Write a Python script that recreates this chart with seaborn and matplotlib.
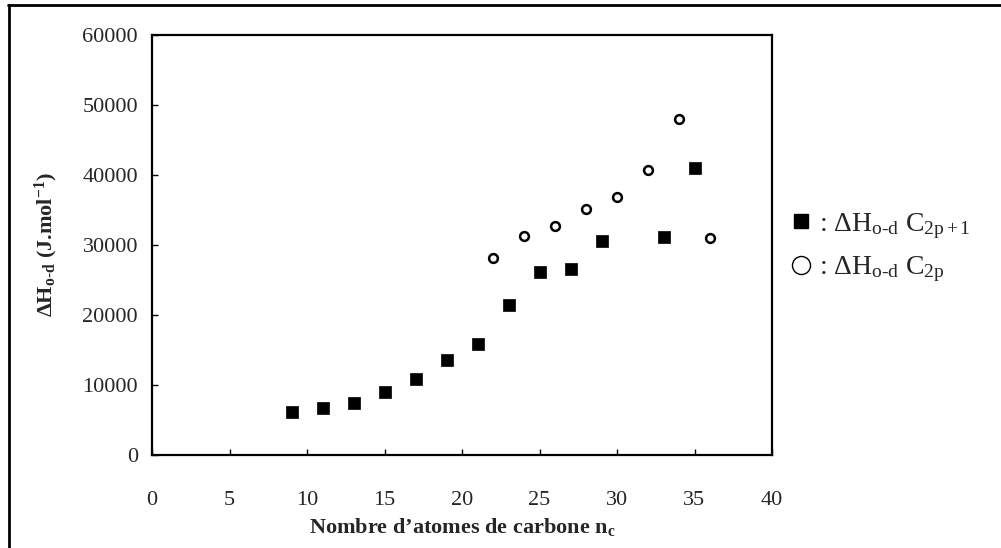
import numpy as np
import pandas as pd
import matplotlib
matplotlib.use("Agg")
import matplotlib.pyplot as plt
from matplotlib.lines import Line2D
import seaborn as sns

# Data
n_odd = [9, 11, 13, 15, 17, 19, 21, 23, 25, 27, 29, 33, 35]
h_odd = [6200, 6700, 7500, 9000, 10800, 13600, 15900, 21500, 26100, 26600, 30600, 31100, 41000]
n_even = [22, 24, 26, 28, 30, 32, 34, 36]
h_even = [28100, 31300, 32700, 35100, 36900, 40700, 48000, 31000]
x_ticks = [0, 5, 10, 15, 20, 25, 30, 35, 40]
y_ticks = [0, 10000, 20000, 30000, 40000, 50000, 60000]

sns.set_theme(style="white")
plt.rcParams['font.family'] = ['Liberation Serif', 'DejaVu Serif']
plt.rcParams['mathtext.fontset'] = 'custom'
plt.rcParams['mathtext.rm'] = 'Liberation Serif'
plt.rcParams['mathtext.it'] = 'Liberation Serif:italic'
plt.rcParams['mathtext.bf'] = 'Liberation Serif:bold'

df_odd = pd.DataFrame({"n": n_odd, "H": h_odd})
df_even = pd.DataFrame({"n": n_even, "H": h_even})

fig = plt.figure(figsize=(10.01, 5.48), dpi=100)
ax = fig.add_axes([152/1001, 1-455/548, (772-152)/1001, (455-35)/548])

sns.scatterplot(data=df_odd, x="n", y="H", ax=ax, marker="s", s=72,
                color="black", edgecolor="black", linewidth=0.5)
sns.scatterplot(data=df_even, x="n", y="H", ax=ax, marker="o", s=40,
                facecolor="white", edgecolor="black", linewidth=1.8)

ax.set_xlim(0, 40)
ax.set_ylim(0, 60000)
ax.set_xticks(x_ticks)
ax.set_yticks(y_ticks)
ax.set_xticklabels([str(t) for t in x_ticks], fontsize=16)
ax.set_yticklabels([str(t) for t in y_ticks], fontsize=16)
ax.tick_params(axis='both', direction='in', length=4, width=1, color='black',
               bottom=True, left=True, top=False, right=False)
ax.tick_params(axis='x', pad=26)
ax.tick_params(axis='y', pad=10)
for sp in ax.spines.values():
    sp.set_visible(True)
    sp.set_color('black')
    sp.set_linewidth(1.6)

ax.set_xlabel('Nombre d\u2019atomes de carbone n$_{\\mathbf{c}}$', fontsize=16,
              fontweight='bold', labelpad=4)
ax.set_ylabel('$\\mathbf{\\Delta H_{o\u2010d}}$ (J.mol$^{\\mathbf{-1}}$)', fontsize=16,
              fontweight='bold', labelpad=16)

handles = [
    Line2D([], [], linestyle='none', marker='s', markersize=9.5,
           markerfacecolor='black', markeredgecolor='black'),
    Line2D([], [], linestyle='none', marker='o', markersize=13,
           markerfacecolor='white', markeredgecolor='black', markeredgewidth=1),
]
labels = [': $\\Delta$H$_{\\mathrm{o\u2010d}}$ C$_{\\mathrm{2p+1}}$',
          ': $\\Delta$H$_{\\mathrm{o\u2010d}}$ C$_{\\mathrm{2p}}$']
fig.legend(handles, labels, loc='upper left', bbox_to_anchor=(790/1001, 1-211/548),
           frameon=False, fontsize=20, handlelength=0.8, handletextpad=0.25,
           labelspacing=0.5, borderaxespad=0, borderpad=0)

# partial outer frame (top and left edges only)
fig.add_artist(Line2D([8/1001, 1.0], [1-5/548, 1-5/548], transform=fig.transFigure,
                      color='black', linewidth=2))
fig.add_artist(Line2D([9/1001, 9/1001], [0.0, 1-5/548], transform=fig.transFigure,
                      color='black', linewidth=2))

fig.savefig("out.png", dpi=100)
